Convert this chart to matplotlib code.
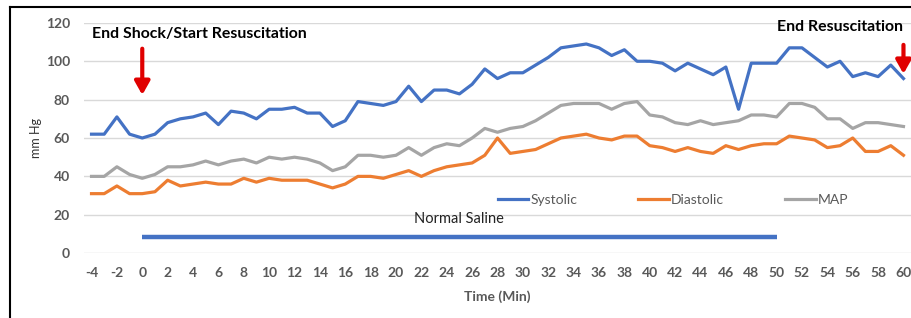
import numpy as np
import matplotlib
matplotlib.use("Agg")
import matplotlib.pyplot as plt

###############################################################################

minutes = list(range(-4, 61))

systolic = [62, 62, 71, 62, 60, 62, 68, 70, 71, 73, 67, 74, 73, 70, 75, 75, 76, 73, 73, 66,
            69, 79, 78, 77, 79, 87, 79, 85, 85, 83, 88, 96, 91, 94, 94, 98, 102, 107, 108, 109,
            107, 103, 106, 100, 100, 99, 95, 99, 96, 93, 97, 75, 99, 99, 99, 107, 107, 102, 97, 100,
            92, 94, 92, 98, 91]

diastolic = [31, 31, 35, 31, 31, 32, 38, 35, 36, 37, 36, 36, 39, 37, 39, 38, 38, 38, 36, 34,
             36, 40, 40, 39, 41, 43, 40, 43, 45, 46, 47, 51, 60, 52, 53, 54, 57, 60, 61, 62,
             60, 59, 61, 61, 56, 55, 53, 55, 53, 52, 56, 54, 56, 57, 57, 61, 60, 59, 55, 56,
             60, 53, 53, 56, 51]

mapValues = [40, 40, 45, 41, 39, 41, 45, 45, 46, 48, 46, 48, 49, 47, 50, 49, 50, 49, 47, 43,
             45, 51, 51, 50, 51, 55, 51, 55, 57, 56, 60, 65, 63, 65, 66, 69, 73, 77, 78, 78,
             78, 75, 78, 79, 72, 71, 68, 67, 69, 67, 68, 69, 72, 72, 71, 78, 78, 76, 70, 70,
             65, 68, 68, 67, 66]

salineStart, salineEnd, salineLevel = 0, 50, 8.5

###############################################################################

plt.rcParams['font.family'] = ['Lato', 'DejaVu Sans']
plt.rcParams['axes.unicode_minus'] = False
grey = '#595959'

fig = plt.figure(figsize=(9.12, 3.18), dpi=100)
ax = fig.add_axes([0.092, 0.204, 0.907, 0.724])

ax.plot(minutes, systolic, color='#4472C4', lw=2.3, label='Systolic', solid_joinstyle='round')
ax.plot(minutes, diastolic, color='#ED7D31', lw=2.3, label='Diastolic', solid_joinstyle='round')
ax.plot(minutes, mapValues, color='#A5A5A5', lw=2.3, label='MAP', solid_joinstyle='round')

ax.plot([salineStart, salineEnd], [salineLevel, salineLevel], color='#4472C4', lw=3.2,
        solid_capstyle='butt')
ax.text((salineStart + salineEnd) / 2, 14, 'Normal Saline', ha='center', va='bottom',
        fontsize=10.5, color='#222222')

ax.set_xlim(-4.6, 60.6)
ax.set_ylim(0, 120)
ax.set_xticks(range(-4, 61, 2))
ax.set_yticks(range(0, 121, 20))
ax.tick_params(length=0, labelsize=10, labelcolor=grey, pad=10)
for lab in ax.get_xticklabels() + ax.get_yticklabels():
    lab.set_fontweight('bold')
ax.grid(axis='y', color='#D9D9D9', lw=1)
ax.set_axisbelow(True)
for s in ax.spines.values():
    s.set_visible(False)

ax.set_xlabel('Time (Min)', fontsize=10, fontweight='bold', color=grey, labelpad=8)
ax.set_ylabel('mm Hg', fontsize=9, color='#333333', labelpad=3)

ax.legend(loc='center', bbox_to_anchor=(0.712, 0.23), ncol=3, frameon=False,
          fontsize=10, labelcolor=grey, handlelength=2.2, handletextpad=0.15,
          columnspacing=4.4)

# annotations
ax.text(-4, 114, 'End Shock/Start Resuscitation', fontsize=11.4, fontweight='bold',
        ha='left', va='center', color='black')
ax.annotate('', xy=(0, 81), xytext=(0, 108),
            arrowprops=dict(arrowstyle='-|>,head_width=0.45,head_length=0.8', color='#E00000', lw=3))
ax.text(60, 118, 'End Resuscitation', fontsize=11.4, fontweight='bold',
        ha='right', va='center', color='black')
ax.annotate('', xy=(60, 92), xytext=(60, 110),
            arrowprops=dict(arrowstyle='-|>,head_width=0.45,head_length=0.8', color='#E00000', lw=3))

# outer frame
fig.add_artist(plt.Line2D([0.011, 0.011], [0.0, 0.978], color='black', lw=1.5))
fig.add_artist(plt.Line2D([0.011, 1.0], [0.978, 0.978], color='black', lw=1.5))

plt.savefig('out.png', dpi=100)
